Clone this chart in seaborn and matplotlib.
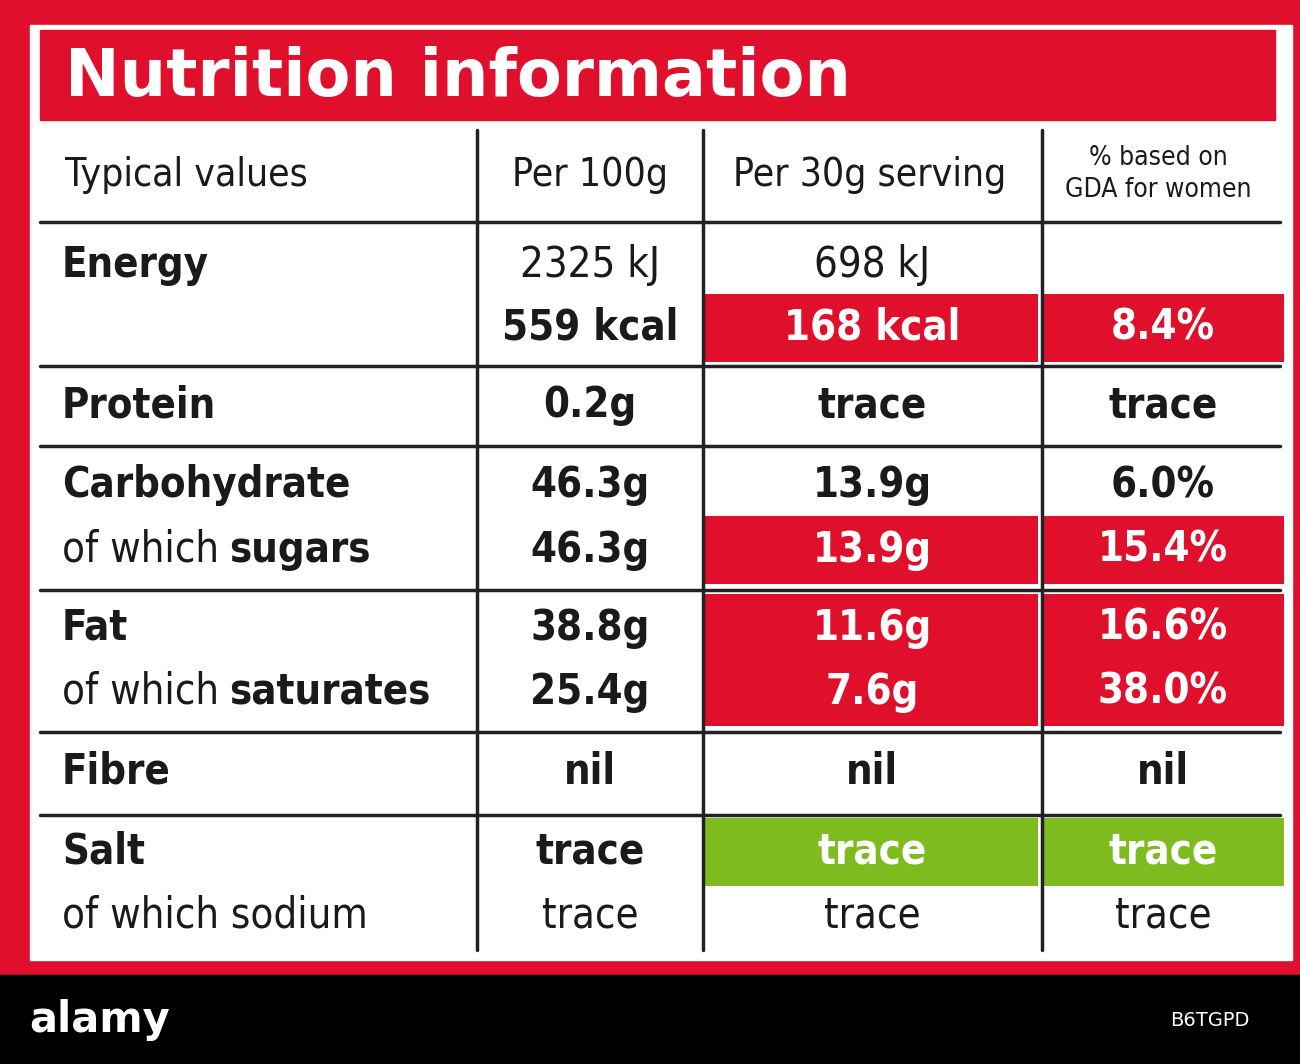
import matplotlib
matplotlib.use("Agg")
import matplotlib.pyplot as plt
from matplotlib.patches import Rectangle
import seaborn as sns

sns.set_theme(style="white")

RED = "#e0102c"
GREEN = "#7dbb1f"
FONT = "DejaVu Sans"

title = "Nutrition information"
headers = ["Typical values", "Per 100g", "Per 30g serving", "% based on\nGDA for women"]
labels = [("Energy", True), ("", False), ("Protein", True), ("Carbohydrate", True),
          ("of which |sugars", False), ("Fat", True), ("of which |saturates", False),
          ("Fibre", True), ("Salt", True), ("of which sodium", False)]
per100 = ["2325 kJ", "559 kcal", "0.2g", "46.3g", "46.3g", "38.8g", "25.4g", "nil", "trace", "trace"]
per30 = ["698 kJ", "168 kcal", "trace", "13.9g", "13.9g", "11.6g", "7.6g", "nil", "trace", "trace"]
gda = ["", "8.4%", "trace", "6.0%", "15.4%", "16.6%", "38.0%", "nil", "trace", "trace"]
bold100 = [False, True, True, True, True, True, True, True, True, False]
highlight = ["", "red", "", "", "red", "red", "red", "", "green", ""]

line_y = [265, 328, 405, 485, 550, 628, 692, 772, 852, 915]
row_lines = [222, 366, 446, 590, 732, 815]
col_x = [40, 477, 703, 1042, 1280]

fig = plt.figure(figsize=(13, 10.64), dpi=100)
ax = fig.add_axes([0, 0, 1, 1])
ax.set_xlim(0, 1300); ax.set_ylim(1064, 0); ax.axis("off")
ax.add_patch(Rectangle((0, 0), 1300, 975, color=RED))
ax.add_patch(Rectangle((0, 975), 1300, 89, color="black"))
ax.add_patch(Rectangle((30, 25), 1262, 935, color="white"))
ax.add_patch(Rectangle((40, 30), 1235, 90, color=RED))
ax.text(65, 78, title, color="white", fontsize=47, fontweight="bold", va="center", family=FONT)

for i, h in enumerate(highlight):
    if not h:
        continue
    c = RED if h == "red" else GREEN
    half = 34
    ax.add_patch(Rectangle((705, line_y[i] - half), 333, 2 * half, color=c, lw=0))
    ax.add_patch(Rectangle((1044, line_y[i] - half), 240, 2 * half, color=c, lw=0))

for y in row_lines:
    ax.plot([40, 1280], [y, y], color="#222", lw=2.5)
for x in col_x[1:4]:
    ax.plot([x, x], [130, 950], color="#222", lw=2.5)

kw = dict(family=FONT, fontstretch="condensed", va="center", color="#1a1a1a")
ax.text(65, 175, headers[0], fontsize=28, **kw)
ax.text(590, 175, headers[1], fontsize=28, ha="center", **kw)
ax.text(870, 175, headers[2], fontsize=28, ha="center", **kw)
ax.text(1158, 174, headers[3], fontsize=19, ha="center", linespacing=1.3, **kw)

fig.canvas.draw()
for i, (lab, b) in enumerate(labels):
    y = line_y[i]
    if "|" in lab:
        a, bb = lab.split("|")
        t = ax.text(62, y, a.strip(), fontsize=30, **kw)
        fig.canvas.draw()
        bbox = t.get_window_extent()
        ax.text(bbox.x1 + 10, y, bb, fontsize=30, fontweight="bold", **kw)
    elif lab:
        ax.text(62, y, lab, fontsize=30, fontweight="bold" if b else "normal", **kw)
    ax.text(590, y, per100[i], fontsize=30, ha="center",
            fontweight="bold" if bold100[i] else "normal", **kw)
    col = "white" if highlight[i] else "#1a1a1a"
    b30 = i not in (0, 9)
    k2 = dict(kw); k2["color"] = col
    ax.text(872, y, per30[i], fontsize=30, ha="center", fontweight="bold" if b30 else "normal", **k2)
    ax.text(1163, y, gda[i], fontsize=30, ha="center", fontweight="bold" if b30 else "normal", **k2)

ax.text(100, 1020, "alamy", color="white", fontsize=30, fontweight="bold", ha="center", va="center", family=FONT)
ax.text(1210, 1020, "B6TGPD", color="white", fontsize=14, ha="center", va="center", family=FONT)

fig.savefig("out.png", dpi=100)
